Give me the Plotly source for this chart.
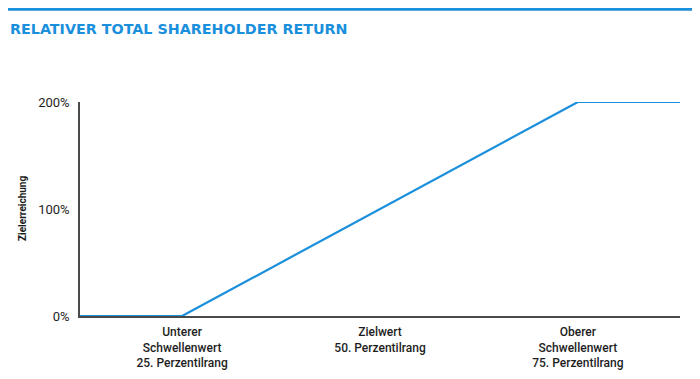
import plotly.graph_objects as go

# data
x_vals = [12.1, 25, 75, 87.9]
y_vals = [0, 0, 200, 200]
tick_pos = [25, 50, 75]
tick_text = ["Unterer<br>Schwellenwert<br>25. Perzentilrang",
             "Zielwert<br>50. Perzentilrang",
             "Oberer<br>Schwellenwert<br>75. Perzentilrang"]
y_ticks = [0, 100, 200]
y_tick_text = ["0%", "100%", "200%"]

blue = "#1a8fdc"
txt = "#1e1e1e"

# page body has an 8px margin: compensate so the plot sits where the reference has it
W, H = 692, 371
L, R, T, B = 72, 20, 94, 63
PW, PH = W - L - R, H - T - B

def px(xp):
    return (xp - L) / PW

def py(yp):
    return 1 + (T - yp) / PH

fig = go.Figure()
fig.add_trace(go.Scatter(x=x_vals, y=y_vals, mode="lines",
                         line=dict(color=blue, width=2.2), hoverinfo="skip",
                         cliponaxis=False))

fig.update_layout(
    width=W, height=H,
    margin=dict(l=L, r=R, t=T, b=B, autoexpand=False),
    paper_bgcolor="white", plot_bgcolor="white",
    showlegend=False,
    xaxis=dict(range=[12.1, 87.9], tickvals=tick_pos, ticktext=tick_text,
               showgrid=False, zeroline=False, showline=True, automargin=False,
               linecolor="#4a4a4a", linewidth=1.5, ticks="", layer="below traces",
               ticklabelstandoff=4,
               tickfont=dict(family="Roboto", size=12, weight=500, color=txt)),
    yaxis=dict(range=[0, 200], tickvals=y_ticks, ticktext=y_tick_text,
               showgrid=False, zeroline=False, showline=True, automargin=False,
               linecolor="#4a4a4a", linewidth=1.5, ticks="", layer="below traces",
               ticklabelstandoff=6,
               tickfont=dict(family="Roboto", size=13, color=txt)),
    shapes=[dict(type="line", xref="paper", yref="paper",
                 x0=px(0), x1=px(700), y0=py(1), y1=py(1),
                 line=dict(color=blue, width=3.5))],
    annotations=[
        dict(text="<b>RELATIVER TOTAL SHAREHOLDER RETURN</b>", xref="paper", yref="paper",
             x=px(0), y=py(21), xanchor="left", yanchor="middle",
             showarrow=False, font=dict(family="DejaVu Sans", size=14.3, color=blue)),
        dict(text="Zielerreichung", xref="paper", yref="paper",
             x=px(14), y=0.5, xanchor="center", yanchor="middle", textangle=-90,
             showarrow=False, font=dict(family="Roboto", size=10, weight=700, color=txt)),
    ],
)

fig.write_html("out.html")
